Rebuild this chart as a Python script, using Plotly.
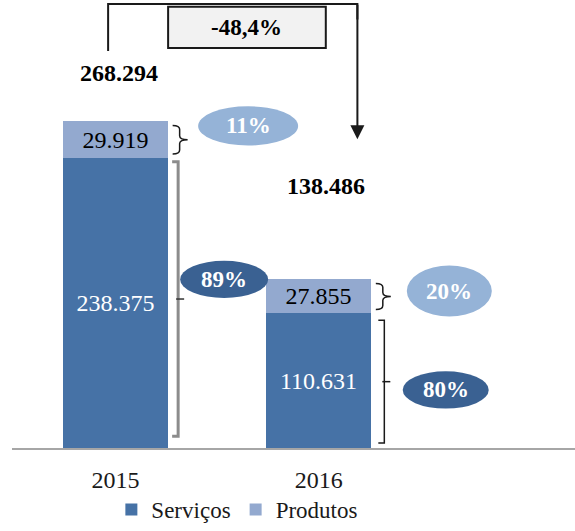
import plotly.graph_objects as go

# ---------------- data ----------------
years = ["2015", "2016"]
servicos = [238375, 110631]
produtos = [29919, 27855]
servicos_txt = ["238.375", "110.631"]
produtos_txt = ["29.919", "27.855"]
totais_txt = ["268.294", "138.486"]
pct_servicos = ["89%", "80%"]
pct_produtos = ["11%", "20%"]
variacao_txt = "-48,4%"

totais = [s + p for s, p in zip(servicos, produtos)]
xpos = list(range(len(years)))

# ---------------- geometry / style ----------------
W, H = 575, 531
ML, MR, MT, MB = 12, 0, 0, 74
PW, PH = W - ML - MR, H - MT - MB
XR = [-0.51, 2.261]
YMAX = 368100
BAR_W = 0.517
FONT = "Liberation Serif, Tinos, Times New Roman, DejaVu Serif, serif"
C_SERV = "#4672A6"
C_PROD = "#93A9CF"
C_ELL_LIGHT = "#95B3D7"
C_ELL_DARK = "#3A6192"


def X(v):
    return ML + (v - XR[0]) / (XR[1] - XR[0]) * PW


def Y(v):
    return MT + PH - v / YMAX * PH


def xd(px):
    return XR[0] + (px - ML) / PW * (XR[1] - XR[0])


def yd(py):
    return (MT + PH - py) / PH * YMAX


fig = go.Figure()
fig.add_trace(go.Bar(
    name="Serviços", x=xpos, y=servicos, width=BAR_W,
    marker=dict(color=C_SERV, line=dict(width=0)),
    text=servicos_txt, textposition="inside", insidetextanchor="middle",
    textangle=0, constraintext="none",
    textfont=dict(family=FONT, size=24, color="white"),
    hoverinfo="skip", cliponaxis=False,
))
fig.add_trace(go.Bar(
    name="Produtos", x=xpos, y=produtos, width=BAR_W,
    marker=dict(color=C_PROD, line=dict(width=0)),
    text=produtos_txt, textposition="inside", insidetextanchor="middle",
    textangle=0, constraintext="none",
    textfont=dict(family=FONT, size=24, color="black"),
    hoverinfo="skip", cliponaxis=False,
))

shapes = []
annotations = []


def path_from_px(cmds):
    out = []
    for cmd in cmds:
        if isinstance(cmd, str):
            out.append(cmd)
        else:
            out.append(f"{xd(cmd[0]):.5f},{yd(cmd[1]):.2f}")
    return " ".join(out)


def brace(x0, xv, xt, yt, yb, r, color, width):
    ym = (yt + yb) / 2
    cmds = ["M", (x0, yt), "Q", (xv, yt), (xv, yt + r), "L", (xv, ym - r),
            "Q", (xv, ym), (xt, ym), "Q", (xv, ym), (xv, ym + r),
            "L", (xv, yb - r), "Q", (xv, yb), (x0, yb)]
    shapes.append(dict(type="path", xref="x", yref="y", path=path_from_px(cmds),
                       line=dict(color=color, width=width)))


def bracket(x0, xv, xt, yt, yb, color, width, tickcolor):
    ym = (yt + yb) / 2
    cmds = ["M", (x0, yt), "L", (xv, yt), "L", (xv, yb), "L", (x0, yb)]
    shapes.append(dict(type="path", xref="x", yref="y", path=path_from_px(cmds),
                       line=dict(color=color, width=width)))
    shapes.append(dict(type="path", xref="x", yref="y",
                       path=path_from_px(["M", (xv - 2, ym), "L", (xt, ym)]),
                       line=dict(color=tickcolor, width=1.5)))


def ellipse(cx, cy, w, h, color, txt):
    shapes.append(dict(type="circle", xref="x", yref="y",
                       x0=xd(cx - w / 2), x1=xd(cx + w / 2),
                       y0=yd(cy + h / 2), y1=yd(cy - h / 2),
                       fillcolor=color, line=dict(width=0), layer="above"))
    annotations.append(dict(x=xd(cx), y=yd(cy), xref="x", yref="y", showarrow=False,
                            text=f"<b>{txt}</b>",
                            font=dict(family=FONT, size=23, color="white")))


# per-year decoration offsets (pixels, relative to bar edge / segment middle)
ell_light = [dict(dx=80, dy=-14, w=100, h=40), dict(dx=78, dy=-5.5, w=85, h=52)]
ell_dark = [dict(dx=56, dy=-24, w=88, h=38), dict(dx=74.4, dy=9.5, w=86, h=38)]
total_shift = [(3.5, 48), (7, 93)]
big_br = [dict(off=10, hook=6, top=4, bot=12, color="#8C8C8C", width=3, tick="#333333"),
          dict(off=13, hook=6, top=7, bot=5, color="#1A1A1A", width=1.5, tick="#1A1A1A")]

for i in xpos:
    right = X(i + BAR_W / 2)
    y_top = Y(totais[i])
    y_mid_s = Y(servicos[i])
    y_base = Y(0)
    p_mid = (y_top + y_mid_s) / 2
    s_mid = (y_mid_s + y_base) / 2

    half = (y_mid_s - y_top) / 2 - 4
    brace(right + 4.5, right + 11.5, right + 19.5, p_mid - half, p_mid + half, 4,
          "#1A1A1A", 1.5)

    b = big_br[i]
    bracket(right + b["off"] - b["hook"], right + b["off"], right + b["off"] + 6,
            y_mid_s + b["top"], y_base - b["bot"], b["color"], b["width"], b["tick"])

    el = ell_light[i]
    ellipse(right + el["dx"], p_mid + el["dy"], el["w"], el["h"], C_ELL_LIGHT, pct_produtos[i])
    ed = ell_dark[i]
    ellipse(right + ed["dx"], s_mid + ed["dy"], ed["w"], ed["h"], C_ELL_DARK, pct_servicos[i])

    annotations.append(dict(x=i, y=totais[i], xref="x", yref="y", showarrow=False,
                            xshift=total_shift[i][0], yshift=total_shift[i][1],
                            text=f"<b>{totais_txt[i]}</b>",
                            font=dict(family=FONT, size=24, color="black")))

# connector from 2015 to 2016 with variation box
cx_left = X(0) - 7.5
cx_right = X(1) + 38.6
shapes.append(dict(type="path", xref="x", yref="y",
                   path=path_from_px(["M", (cx_left, 52), "L", (cx_left, 4),
                                      "L", (cx_right, 4), "L", (cx_right, 20)]),
                   line=dict(color="#1A1A1A", width=2)))
annotations.append(dict(x=xd(cx_right), y=yd(142), xref="x", yref="y",
                        ax=0, ay=-136, showarrow=True, arrowhead=2, arrowsize=1.4,
                        arrowwidth=2, arrowcolor="#1A1A1A", text=""))
bx0, bx1, by0, by1 = X(0) + 52.5, X(1) + 7, 7, 49
shapes.append(dict(type="rect", xref="x", yref="y",
                   x0=xd(bx0), x1=xd(bx1), y0=yd(by1), y1=yd(by0),
                   fillcolor="#F2F2F2", line=dict(color="#1A1A1A", width=2),
                   layer="above"))
annotations.append(dict(x=xd((bx0 + bx1) / 2), y=yd((by0 + by1) / 2), xref="x", yref="y",
                        showarrow=False, text=f"<b>{variacao_txt}</b>",
                        font=dict(family=FONT, size=23, color="black")))

fig.update_layout(
    width=W, height=H,
    margin=dict(l=ML, r=MR, t=MT, b=MB, pad=0),
    barmode="stack", bargap=0,
    plot_bgcolor="white", paper_bgcolor="white",
    font=dict(family=FONT, color="#1A1A1A"),
    shapes=shapes, annotations=annotations,
    showlegend=True,
    legend=dict(orientation="h", x=0.1765, xanchor="left", y=(PH - (520 - MT)) / PH,
                yanchor="middle", traceorder="normal",
                font=dict(family=FONT, size=23, color="#1A1A1A"),
                bgcolor="rgba(0,0,0,0)", itemwidth=30),
    xaxis=dict(range=XR, tickvals=xpos, ticktext=years, showgrid=False, zeroline=False,
               showline=True, linecolor="#A6A6A6", linewidth=2,
               ticks="outside", ticklen=9, tickcolor="rgba(0,0,0,0)",
               tickfont=dict(family=FONT, size=24, color="#1A1A1A"), fixedrange=True),
    yaxis=dict(range=[0, YMAX], visible=False, showgrid=False, zeroline=False,
               fixedrange=True),
)

fig.write_html("out.html", config={"displayModeBar": False},
               post_script="document.body.style.margin='0';")
